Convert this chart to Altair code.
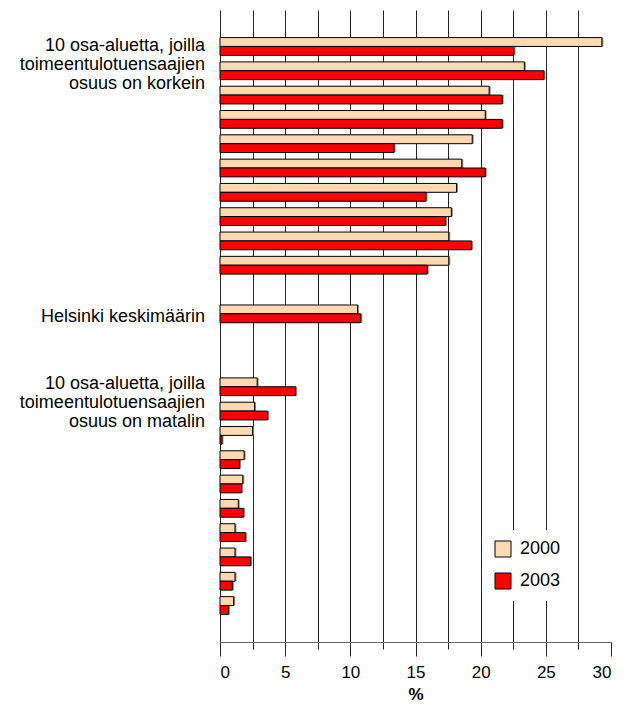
import altair as alt
import pandas as pd

# ---- data ----
years = ["2000", "2003"]
colors = ["#FFD9B0", "#FF0000"]

high_slots = [f"A{i}" for i in range(1, 11)]
low_slots = [f"B{i}" for i in range(1, 11)]
slots = ["pad_top"] + high_slots + ["gap1", "HKI", "gap2", "gap3"] + low_slots + ["pad_bottom"]

high_2000 = [29.3, 23.35, 20.65, 20.35, 19.35, 18.55, 18.15, 17.75, 17.55, 17.55]
high_2003 = [22.55, 24.85, 21.65, 21.65, 13.35, 20.35, 15.8, 17.3, 19.3, 15.9]
hki_2000 = [10.55]
hki_2003 = [10.8]
low_2000 = [2.85, 2.65, 2.5, 1.85, 1.75, 1.4, 1.15, 1.15, 1.15, 1.05]
low_2003 = [5.8, 3.65, 0.15, 1.5, 1.65, 1.8, 1.95, 2.35, 0.95, 0.65]

label_high = "10 osa-aluetta, joilla\ntoimeentulotuensaajien\nosuus on korkein"
label_hki = "Helsinki keskimäärin"
label_low = "10 osa-aluetta, joilla\ntoimeentulotuensaajien\nosuus on matalin"

tick_values = [0, 2.5, 5, 7.5, 10, 12.5, 15, 17.5, 20, 22.5, 25, 27.5, 30]

# ---- tables ----
rows = []
for s, a, b in zip(high_slots + ["HKI"] + low_slots,
                   high_2000 + hki_2000 + low_2000,
                   high_2003 + hki_2003 + low_2003):
    rows.append({"slot": s, "year": "2000", "value": a})
    rows.append({"slot": s, "year": "2003", "value": b})
bars_df = pd.DataFrame(rows)

FONT = "Liberation Sans"

y_enc = alt.Y("slot:N", scale=alt.Scale(domain=slots, paddingInner=0.27, paddingOuter=0.135), axis=None)
yoff_enc = alt.YOffset("year:N", scale=alt.Scale(domain=years, paddingInner=0, paddingOuter=0))
x_enc = alt.X(
    "value:Q",
    scale=alt.Scale(domain=[0, 30], nice=False, zero=True),
    title="%",
    axis=alt.Axis(
        values=tick_values,
        labelExpr="datum.value % 5 === 0 ? datum.label : ''",
        tickSize={"condition": {"test": "datum.value % 5 === 0", "value": 14}, "value": 7},
        tickColor="#222",
        domainColor="#666",
        grid=True,
        gridColor="#222",
        gridWidth=1,
        gridOpacity={"condition": {"test": "datum.value >= 30", "value": 0}, "value": 1},
        labelFont=FONT,
        labelFontSize=17,
        labelColor="black",
        labelPadding=8,
        titleFont=FONT,
        titleFontSize=17,
        titleFontWeight="bold",
        titleColor="black",
        titleBaseline="alphabetic",
        titleY=57,
    ),
)

base = alt.Chart(bars_df)

shadow = base.mark_bar(color="#8a8a8a", xOffset=1.5, x2Offset=1.5, yOffset=1.5, y2Offset=1.5).encode(
    x=x_enc, y=y_enc, yOffset=yoff_enc
)

bars = base.mark_bar(stroke="black", strokeWidth=1).encode(
    x=x_enc,
    y=y_enc,
    yOffset=yoff_enc,
    color=alt.Color(
        "year:N",
        scale=alt.Scale(domain=years, range=colors),
        legend=alt.Legend(
            title=None,
            orient="none",
            legendX=264,
            legendY=520,
            fillColor="white",
            padding=10,
            symbolType="square",
            symbolSize=256,
            symbolStrokeColor="black",
            symbolStrokeWidth=1,
            symbolOpacity=1,
            labelFont=FONT,
            labelFontSize=18,
            labelColor="black",
            labelOffset=8,
            rowPadding=12,
        ),
    ),
)

def text_layer(slot, text, dy):
    df = pd.DataFrame({"slot": [slot], "text": [text]})
    return alt.Chart(df).mark_text(
        align="right", baseline="alphabetic", dy=dy, lineBreak="\n", lineHeight=19,
        font=FONT, fontSize=18, color="black",
    ).encode(y=y_enc, x=alt.value(-15), text="text:N")

t_high = text_layer("A1", label_high, 5)
t_hki = text_layer("HKI", label_hki, 8)
t_low = text_layer("B1", label_low, 2)

chart = alt.layer(shadow, bars, t_high, t_hki, t_low).properties(
    width=391,
    height=632,
    autosize=alt.AutoSizeParams(type="none"),
    padding={"left": 212, "top": 2, "right": 13, "bottom": 66},
).configure_view(stroke=None)

chart.save("out.html", embed_options={"renderer": "svg", "actions": False})
